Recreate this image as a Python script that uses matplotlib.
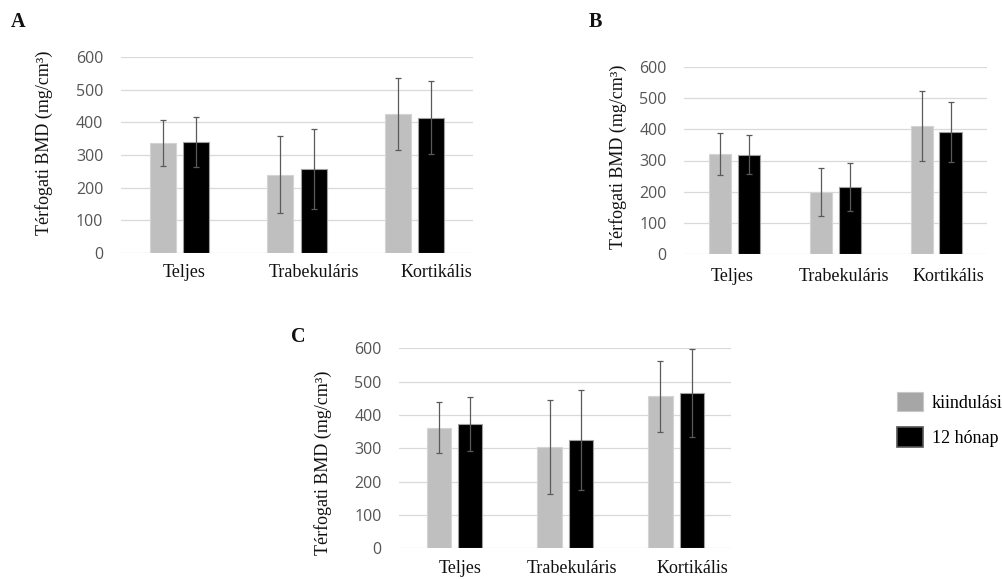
import matplotlib
matplotlib.use("Agg")
import matplotlib.pyplot as plt
import numpy as np
from matplotlib.patches import Patch

# ---------------- data ----------------
categories = ["Teljes", "Trabekuláris", "Kortikális"]
series_names = ["kiindulási", "12 hónap"]

A_baseline = [336, 240, 425]
A_baseline_sd = [71, 118, 111]
A_month12 = [340, 257, 415]
A_month12_sd = [76, 124, 113]

B_baseline = [320, 199, 411]
B_baseline_sd = [67, 78, 111]
B_month12 = [318, 214, 391]
B_month12_sd = [62, 77, 97]

C_baseline = [362, 303, 456]
C_baseline_sd = [76, 141, 106]
C_month12 = [374, 324, 467]
C_month12_sd = [81, 150, 132]

y_ticks = [0, 100, 200, 300, 400, 500, 600]
y_label = "Térfogati BMD (mg/cm³)"
panel_letters = ["A", "B", "C"]

# ---------------- style ----------------
SERIF = "Liberation Serif"
SANS = "Open Sans"
GRAY = "#bfbfbf"
BLACK = "#000000"
W, H = 1003, 579

fig = plt.figure(figsize=(W / 100, H / 100), dpi=100)


def px_axes(left, right, top, bottom):
    return fig.add_axes([left / W, 1 - bottom / H, (right - left) / W, (bottom - top) / H])


def draw_panel(ax, base, base_sd, m12, m12_sd, label_shift, label_pad):
    x = np.arange(len(categories))
    off, bw = 0.142, 0.22
    ax.bar(x - off, base, width=bw, color=GRAY, edgecolor="#d4d4d4", linewidth=0.8, zorder=2)
    ax.bar(x + off, m12, width=bw, color=BLACK, edgecolor="#a0a0a0", linewidth=0.8, zorder=2)
    ax.errorbar(x - off, base, yerr=base_sd, fmt="none", ecolor="#5a5a5a",
                elinewidth=0.9, capsize=2.4, capthick=0.9, zorder=3)
    ax.errorbar(x + off, m12, yerr=m12_sd, fmt="none", ecolor="#5a5a5a",
                elinewidth=0.9, capsize=2.4, capthick=0.9, zorder=3)
    ax.set_xlim(-0.5, len(categories) - 0.5)
    ax.set_ylim(0, 600)
    ax.set_yticks(y_ticks)
    ax.set_yticklabels([str(v) for v in y_ticks], fontfamily=SANS, fontsize=11.5, color="#555555")
    ax.tick_params(axis="y", length=0, pad=12.5)
    ax.set_xticks(x + np.array(label_shift))
    ax.set_xticklabels(categories, fontfamily=SERIF, fontsize=13, color="#111111")
    ax.tick_params(axis="x", length=0, pad=label_pad)
    ax.yaxis.grid(True, color="#d9d9d9", linewidth=0.9)
    ax.set_axisbelow(True)
    for s in ax.spines.values():
        s.set_visible(False)


axA = px_axes(120.7, 473.3, 57.3, 252.7)
draw_panel(axA, A_baseline, A_baseline_sd, A_month12, A_month12_sd, [0.04, 0.146, 0.183], 8)
axB = px_axes(684, 986.7, 66.7, 254.3)
draw_panel(axB, B_baseline, B_baseline_sd, B_month12, B_month12_sd, [-0.02, 0.09, 0.12], 10)
axC = px_axes(399.1, 731.5, 348.3, 548.3)
draw_panel(axC, C_baseline, C_baseline_sd, C_month12, C_month12_sd, [0.05, 0.06, 0.146], 8.5)

# y labels
for (xc, yc) in [(44, 142.5), (618, 156.5), (323.3, 462.5)]:
    fig.text(xc / W, 1 - yc / H, y_label, rotation=90, ha="center", va="center",
             fontfamily=SERIF, fontsize=13, color="#111111")

# panel letters
for letter, (xl, yt) in zip(panel_letters, [(11, 12), (589, 12), (291, 327)]):
    fig.text(xl / W, 1 - yt / H, letter, ha="left", va="top",
             fontfamily=SERIF, fontsize=14.5, fontweight="bold", color="#111111")

# legend
handles = [Patch(facecolor="#a6a6a6", edgecolor="#c8c8c8", linewidth=0.8),
           Patch(facecolor="#000000", edgecolor="#555555", linewidth=1.2)]
fig.legend(handles, series_names, loc="upper left",
           bbox_to_anchor=(896.7 / W, 1 - 392 / H), frameon=False,
           borderpad=0, borderaxespad=0, handlelength=1.45, handleheight=1.28,
           handletextpad=0.5, labelspacing=0.85,
           prop={"family": SERIF, "size": 13})

fig.savefig("out.png", dpi=100, facecolor="white")
